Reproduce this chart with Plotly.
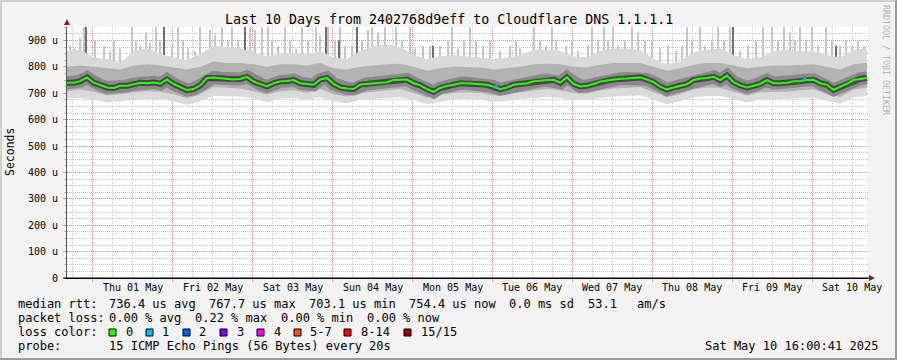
import pandas as pd
import plotly.graph_objects as go

# ---------------- data ----------------
chart_title = "Last 10 Days from 2402768d9eff to Cloudflare DNS 1.1.1.1"
range_start = "2025-04-30 16:20"
range_end = "2025-05-10 16:40"

# median rtt (microseconds), one value every 2 hours from range_start
median_rtt_us = [
    740, 740, 746, 760, 740, 730, 722, 720, 728, 728,
    734, 740, 738, 741, 736, 752, 735, 722, 712, 716,
    730, 758, 760, 757, 755, 752, 754, 762, 744, 735,
    726, 738, 745, 746, 750, 738, 734, 732, 752, 758,
    735, 722, 718, 716, 733, 736, 738, 740, 742, 750,
    751, 752, 738, 730, 716, 705, 720, 728, 732, 738,
    738, 736, 734, 732, 725, 715, 722, 732, 735, 738,
    745, 748, 750, 751, 740, 760, 735, 726, 728, 735,
    744, 748, 752, 755, 756, 758, 760, 752, 742, 725,
    714, 722, 728, 734, 750, 756, 758, 762, 750, 767,
    742, 730, 722, 728, 735, 750, 738, 738, 740, 745,
    746, 750, 751, 738, 732, 713, 724, 736, 750, 755,
    758,
]

# smoke envelope (microseconds), one value every 4 hours from range_start
smoke_outer_low_us = [
    680, 682, 675, 665, 670, 675, 678, 678, 670, 655,
    670, 690, 690, 688, 680, 666, 680, 682, 675, 685,
    670, 662, 675, 678, 682, 685, 674, 658, 668, 675,
    678, 675, 668, 670, 678, 682, 686, 682, 675, 673,
    682, 688, 690, 692, 675, 658, 670, 685, 690, 690,
    678, 665, 676, 676, 678, 682, 684, 672, 660, 685,
    690,
]
smoke_outer_high_us = [
    860, 865, 835, 830, 815, 860, 870, 850, 835, 825,
    850, 880, 875, 870, 855, 840, 850, 855, 845, 860,
    835, 830, 860, 880, 885, 875, 845, 830, 840, 845,
    840, 835, 830, 835, 845, 865, 865, 860, 840, 835,
    860, 870, 870, 865, 830, 810, 820, 855, 865, 870,
    845, 830, 835, 860, 865, 860, 860, 845, 835, 865,
    870,
]
smoke_mid_low_us = [
    708, 714, 706, 691, 696, 704, 708, 706, 696, 681,
    696, 724, 721, 718, 708, 694, 708, 711, 701, 716,
    696, 688, 701, 706, 711, 716, 701, 684, 694, 701,
    704, 701, 691, 694, 704, 711, 716, 711, 701, 698,
    711, 718, 721, 724, 704, 686, 696, 716, 722, 721,
    706, 691, 704, 704, 706, 711, 714, 698, 686, 714,
    721,
]
smoke_mid_high_us = [
    800, 805, 800, 795, 790, 805, 810, 805, 798, 790,
    800, 820, 815, 815, 810, 800, 810, 810, 805, 815,
    795, 790, 800, 805, 810, 812, 800, 785, 795, 800,
    800, 798, 790, 795, 800, 810, 812, 810, 800, 798,
    808, 815, 815, 815, 800, 785, 795, 808, 815, 815,
    805, 795, 800, 805, 805, 808, 810, 800, 790, 810,
    815,
]

# isolated slow pings: hours after range_start, top value (microseconds)
spike_hours = [
    0.9, 2.4, 3.9, 5.1, 8.4, 11.1, 12.9, 14.1, 15.9, 19.5,
    20.7, 21.9, 23.7, 24.9, 26.7, 27.9, 31.5, 33.3, 34.8, 36.3,
    38.4, 39.9, 42.9, 44.4, 46.5, 48.3, 49.5, 51.3, 54.9, 56.4,
    58.5, 60.3, 61.5, 63.3, 65.4, 66.9, 68.7, 70.5, 72.3, 74.7,
    75.9, 78.3, 80.4, 81.9, 83.4, 85.5, 88.5, 90.3, 91.5, 93.3,
    95.4, 97.5, 98.7, 100.5, 102.9, 104.4, 106.8, 108.9, 111.9, 114.3,
    115.5, 117.3, 119.1, 120.9, 122.7, 124.8, 126.9, 129.9, 132.9, 134.7,
    135.9, 140.1, 141.9, 143.7, 145.5, 146.7, 149.7, 151.5, 153.3, 156.3,
    157.5, 159.3, 161.1, 162.3, 163.8, 165.3, 167.4, 169.5, 171.3, 173.4,
    175.5, 177.9, 180.3, 182.7, 184.5, 186.0, 187.5, 189.9, 191.4, 193.5,
    195.3, 197.1, 198.9, 201.9, 204.3, 206.7, 208.8, 211.5, 213.3, 215.1,
    216.9, 218.4, 219.9, 221.7, 223.5, 225.3, 227.7, 229.5, 231.9, 233.7,
    235.5, 237.3, 239.1,
]
spike_top_us = [
    880, 870, 910, 950, 900, 880, 860, 900, 870, 950,
    900, 880, 930, 890, 950, 900, 880, 950, 900, 870,
    860, 950, 940, 920, 950, 900, 950, 900, 950, 940,
    950, 950, 900, 880, 950, 900, 870, 950, 900, 950,
    920, 950, 900, 950, 880, 880, 900, 940, 950, 930,
    950, 880, 950, 900, 950, 870, 880, 880, 880, 900,
    950, 870, 900, 950, 900, 880, 900, 860, 880, 900,
    870, 950, 900, 880, 950, 900, 880, 900, 860, 880,
    950, 900, 950, 900, 950, 880, 900, 950, 930, 900,
    900, 870, 880, 860, 880, 950, 900, 950, 880, 900,
    950, 900, 950, 860, 880, 900, 950, 950, 900, 950,
    930, 900, 950, 900, 950, 880, 950, 900, 880, 900,
    880, 900, 880,
]
dark_spike_hours = [5.7, 29.1, 53.4, 77.7, 81.6, 87.0, 109.8, 199.8, 230.7]
dark_spike_top_us = [960, 960, 960, 960, 900, 960, 880, 960, 880]

loss_hours = [128.7, 221.4]
loss_rtt_us = [724, 752]

day_starts = pd.date_range("2025-05-01", periods=10, freq="D")
day_labels = ["Thu 01 May", "Fri 02 May", "Sat 03 May", "Sun 04 May", "Mon 05 May",
              "Tue 06 May", "Wed 07 May", "Thu 08 May", "Fri 09 May", "Sat 10 May"]
y_ticks_us = [0, 100, 200, 300, 400, 500, 600, 700, 800, 900]
y_tick_labels = ["0"] + [f"{v} u" for v in y_ticks_us[1:]]

rtt_stat_values = [736.4, 767.7, 703.1, 754.4]
rtt_stat_names = ["avg", "max", "min", "now"]
rtt_sd_ms = 0.0
rtt_am_s = 53.1
loss_stat_values = [0.00, 0.22, 0.00, 0.00]
loss_color_labels = ["0", "1", "2", "3", "4", "5-7", "8-14", "15/15"]
loss_color_values = ["#26ff00", "#00b8ff", "#0059ff", "#7e00ff", "#ff00ff", "#ff5500", "#ff0000", "#a10000"]
probe_text = "15 ICMP Echo Pings (56 Bytes) every 20s"
stamp_text = "Sat May 10 16:00:41 2025"

# ---------------- layout helpers ----------------
W, H = 897, 360
PL, PR, PT, PB = 67, 868, 27, 278
MONO = "DejaVu Sans Mono, monospace"
MAJOR = "rgba(235,90,90,0.55)"
MINOR = "rgba(150,150,150,0.55)"


def px_x(px):
    return (px - PL) / (PR - PL)


def px_y(py):
    return (PB - py) / (PB - PT)


t0 = pd.Timestamp(range_start)
median_x = pd.date_range(range_start, periods=len(median_rtt_us), freq="2h")
band_x = pd.date_range(range_start, periods=len(smoke_outer_low_us), freq="4h")
spike_x = t0 + pd.to_timedelta(spike_hours, unit="h")
dark_spike_x = t0 + pd.to_timedelta(dark_spike_hours, unit="h")
loss_x = t0 + pd.to_timedelta(loss_hours, unit="h")
spike_base = 700

fig = go.Figure()
fig.add_trace(go.Bar(x=spike_x, y=[v - spike_base for v in spike_top_us], base=spike_base,
                     width=1.8e6, marker=dict(color="#c6c6c6", line=dict(width=0)),
                     hoverinfo="skip", showlegend=False))
fig.add_trace(go.Bar(x=dark_spike_x, y=[v - spike_base for v in dark_spike_top_us], base=spike_base,
                     width=1.3e6, marker=dict(color="#6e6e6e", line=dict(width=0)),
                     hoverinfo="skip", showlegend=False))
fig.add_trace(go.Scatter(x=band_x, y=smoke_outer_low_us, mode="lines", line=dict(width=0),
                         hoverinfo="skip", showlegend=False))
fig.add_trace(go.Scatter(x=band_x, y=smoke_outer_high_us, mode="lines", line=dict(width=0),
                         fill="tonexty", fillcolor="#dadada", hoverinfo="skip", showlegend=False))
fig.add_trace(go.Scatter(x=band_x, y=smoke_mid_low_us, mode="lines", line=dict(width=0),
                         hoverinfo="skip", showlegend=False))
fig.add_trace(go.Scatter(x=band_x, y=smoke_mid_high_us, mode="lines", line=dict(width=0),
                         fill="tonexty", fillcolor="#b3b3b3", hoverinfo="skip", showlegend=False))
fig.add_trace(go.Scatter(x=median_x, y=median_rtt_us, mode="lines",
                         line=dict(width=13, color="#8a8a8a"), hoverinfo="skip", showlegend=False))
fig.add_trace(go.Scatter(x=median_x, y=median_rtt_us, mode="lines",
                         line=dict(width=6, color="#474747"), hoverinfo="skip", showlegend=False))
fig.add_trace(go.Scatter(x=median_x, y=median_rtt_us, mode="lines",
                         line=dict(width=2, color="#26ff00"), showlegend=False))
fig.add_trace(go.Scatter(x=loss_x, y=loss_rtt_us, mode="markers",
                         marker=dict(symbol="square", size=3, color="#00b8ff"), showlegend=False))

minor_x = pd.date_range("2025-04-30 18:00", "2025-05-10 12:00", freq="6h")

fig.update_layout(
    width=W, height=H,
    margin=dict(l=PL, r=W - PR, t=PT, b=H - PB, pad=0),
    paper_bgcolor="#f3f3f3", plot_bgcolor="#ffffff",
    barmode="overlay", showlegend=False,
    font=dict(family=MONO, size=10, color="#000000"),
    xaxis=dict(type="date", range=[range_start, range_end],
               tickmode="array", tickvals=day_starts, showticklabels=False,
               ticks="outside", ticklen=3, tickcolor=MAJOR,
               showgrid=True, gridcolor=MAJOR, griddash="1px,1px", gridwidth=1,
               minor=dict(tickmode="array", tickvals=minor_x, showgrid=True,
                          gridcolor=MINOR, griddash="1px,1px", ticks=""),
               showline=True, linecolor="#000000", linewidth=1, zeroline=False),
    yaxis=dict(range=[0, 951], tickmode="array", tickvals=y_ticks_us, ticktext=y_tick_labels,
               ticks="outside", ticklen=3, tickcolor=MAJOR, ticklabelstandoff=3,
               tickfont=dict(family=MONO, size=10, color="#000000"),
               showgrid=True, gridcolor=MAJOR, griddash="1px,1px", gridwidth=1,
               minor=dict(dtick=25, tick0=0, showgrid=True, gridcolor=MINOR,
                          griddash="1px,1px", ticks="outside", ticklen=2, tickcolor=MINOR),
               showline=True, linecolor="#555555", linewidth=1, zeroline=False),
)

ann = []


def text(px, py, s, size=12, anchor="left", color="#000000", angle=0):
    ann.append(dict(x=px_x(px), y=px_y(py), xref="paper", yref="paper", text=s,
                    showarrow=False, xanchor=anchor, yanchor="middle", textangle=angle,
                    font=dict(family=MONO, size=size, color=color)))


# title, axis title, watermark
text(W / 2, 19, chart_title, size=13.3, anchor="center")
text(10, 152, "Seconds", size=11.5, anchor="center", angle=-90)
text(886, 60, "RRDTOOL / TOBI OETIKER", size=8.3, anchor="center", color="#b4b4b4", angle=90)

# day labels at noon
for d, lab in zip(day_starts, day_labels):
    ann.append(dict(x=d + pd.Timedelta(hours=12), y=px_y(287), xref="x", yref="paper",
                    text=lab, showarrow=False, xanchor="center", yanchor="middle",
                    font=dict(family=MONO, size=10, color="#000000")))

# legend rows
text(16, 304, "median rtt:")
for v, n, px in zip(rtt_stat_values, rtt_stat_names, [107, 207, 307, 407]):
    text(px, 304, f"{v:.1f} us {n}")
text(507, 304, f"{rtt_sd_ms:.1f} ms sd")
text(586, 304, f"{rtt_am_s:.1f}")
text(635, 304, "am/s")

text(16, 318, "packet loss:")
for v, n, px in zip(loss_stat_values, rtt_stat_names, [107, 193, 279, 365]):
    text(px, 318, f"{v:.2f} % {n}")

text(16, 332, "loss color:")
box_px = [109, 146, 183, 220, 257, 294, 344, 404]
label_px = [124, 160, 197, 235, 272, 308, 359, 419]
shapes = []
for lab, col, bx, lx in zip(loss_color_labels, loss_color_values, box_px, label_px):
    shapes.append(dict(type="rect", xref="paper", yref="paper",
                       x0=px_x(bx), x1=px_x(bx + 7), y0=px_y(336), y1=px_y(329),
                       fillcolor=col, line=dict(color="#000000", width=1)))
    text(lx, 332, lab)

text(16, 346, "probe:")
text(107, 346, probe_text)
text(880, 346, stamp_text, anchor="right")


def path(points):
    return "M " + " L ".join(f"{px_x(a)},{px_y(b)}" for a, b in points) + " Z"


# axis arrows
shapes.append(dict(type="path", xref="paper", yref="paper",
                   path=path([(64, 25), (70, 25), (67, 19)]),
                   fillcolor="#8b1a1a", line=dict(width=0)))
shapes.append(dict(type="path", xref="paper", yref="paper",
                   path=path([(869, 275), (869, 281), (875, 278)]),
                   fillcolor="#8b1a1a", line=dict(width=0)))
# axis extension to the left of the y axis
shapes.append(dict(type="line", xref="paper", yref="paper", x0=px_x(63), x1=px_x(869),
                   y0=0, y1=0, line=dict(color="#000000", width=1)))

# frame
shapes.append(dict(type="line", xref="paper", yref="paper", x0=px_x(0), x1=px_x(W),
                   y0=px_y(1), y1=px_y(1), line=dict(color="#cfcfcf", width=2)))
shapes.append(dict(type="line", xref="paper", yref="paper", x0=px_x(1), x1=px_x(1),
                   y0=px_y(0), y1=px_y(H), line=dict(color="#cfcfcf", width=2)))
shapes.append(dict(type="line", xref="paper", yref="paper", x0=px_x(0), x1=px_x(W),
                   y0=px_y(H - 1), y1=px_y(H - 1), line=dict(color="#9a9a9a", width=2)))
shapes.append(dict(type="line", xref="paper", yref="paper", x0=px_x(W - 1), x1=px_x(W - 1),
                   y0=px_y(0), y1=px_y(H), line=dict(color="#9a9a9a", width=2)))

fig.update_layout(annotations=ann, shapes=shapes)
fig.write_html("out.html", config={"displayModeBar": False},
               post_script="document.body.style.margin='0px';")
